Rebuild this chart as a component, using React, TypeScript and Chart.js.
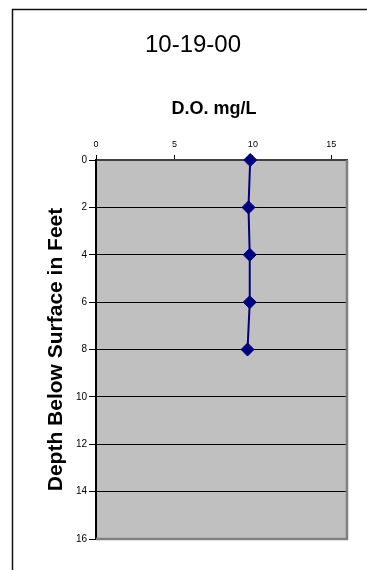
import React, { useEffect, useRef } from "react";
import { Chart, registerables } from "chart.js";

Chart.register(...registerables);

const chartTitle = "10-19-00";
const xAxisTitle = "D.O. mg/L";
const yAxisTitle = "Depth Below Surface in Feet";
const depthFeet = [0, 2, 4, 6, 8];
const doMgL = [9.83, 9.72, 9.8, 9.8, 9.66];
const xTickValues = [0, 5, 10, 15];
const yTickValues = [0, 2, 4, 6, 8, 10, 12, 14, 16];

const FONT = "Arial, 'Liberation Sans', sans-serif";

const framePlugin = {
  id: "excelFrame",
  beforeDraw(chart: any) {
    const { ctx, chartArea } = chart;
    ctx.save();
    ctx.fillStyle = "#ffffff";
    ctx.fillRect(0, 0, chart.width, chart.height);
    // outer chart border
    ctx.strokeStyle = "#111111";
    ctx.lineWidth = 1.5;
    ctx.strokeRect(12.5, 9.5, 400, 620);
    // plot area
    ctx.fillStyle = "#C0C0C0";
    ctx.fillRect(chartArea.left, chartArea.top, chartArea.right - chartArea.left, chartArea.bottom - chartArea.top);
    // texts
    ctx.fillStyle = "#000000";
    ctx.textAlign = "center";
    ctx.textBaseline = "alphabetic";
    ctx.font = `24px ${FONT}`;
    ctx.fillText(chartTitle, 193, 51.5);
    ctx.font = `bold 18px ${FONT}`;
    ctx.fillText(xAxisTitle, 214, 113.5);
    ctx.translate(62, (chartArea.top + chartArea.bottom) / 2);
    ctx.rotate(-Math.PI / 2);
    ctx.font = `bold 21px ${FONT}`;
    ctx.fillText(yAxisTitle, 0, 0);
    ctx.restore();
  },
  beforeDatasetsDraw(chart: any) {
    const { ctx, chartArea } = chart;
    ctx.save();
    ctx.strokeStyle = "#808080";
    ctx.lineWidth = 2.5;
    ctx.beginPath();
    ctx.moveTo(chartArea.right, chartArea.top);
    ctx.lineTo(chartArea.right, chartArea.bottom);
    ctx.lineTo(chartArea.left, chartArea.bottom);
    ctx.stroke();
    ctx.restore();
  },
};

export default function App() {
  const canvasRef = useRef<HTMLCanvasElement | null>(null);

  useEffect(() => {
    document.body.style.margin = "0";
    const canvas = canvasRef.current;
    if (!canvas) return;
    const chart = new Chart(canvas, {
      type: "scatter",
      data: {
        datasets: [
          {
            label: xAxisTitle,
            data: depthFeet.map((d, i) => ({ x: doMgL[i], y: d })),
            showLine: true,
            clip: false,
            borderColor: "#000080",
            backgroundColor: "#000080",
            borderWidth: 2,
            pointStyle: "rectRot",
            pointRadius: 6.5,
            pointBorderWidth: 1,
            pointBorderColor: "#000080",
            pointBackgroundColor: "#000080",
            tension: 0,
          },
        ],
      },
      options: {
        responsive: false,
        animation: false,
        devicePixelRatio: 1,
        layout: { padding: { left: 0, top: 0, right: 20, bottom: 31 } },
        plugins: {
          legend: { display: false },
          title: { display: false },
          tooltip: { enabled: false },
        },
        scales: {
          x: {
            type: "linear",
            position: "top",
            min: 0,
            max: 16,
            afterBuildTicks: (s: any) => {
              s.ticks = xTickValues.map((v) => ({ value: v }));
            },
            afterFit: (s: any) => {
              s.height = 160;
            },
            grid: {
              drawOnChartArea: false,
              tickLength: 5,
              color: "#000000",
              tickColor: "#000000",
            },
            border: { display: true, color: "#404040", width: 2 },
            ticks: {
              font: { family: FONT, size: 9 },
              color: "#000000",
              padding: 5,
              maxRotation: 0,
              autoSkip: false,
            },
          },
          y: {
            type: "linear",
            reverse: true,
            min: 0,
            max: 16,
            afterBuildTicks: (s: any) => {
              s.ticks = yTickValues.map((v) => ({ value: v }));
            },
            afterFit: (s: any) => {
              s.width = 96;
            },
            grid: {
              color: (c: any) =>
                c.tick && (c.tick.value === 0 || c.tick.value === 16) ? "rgba(0,0,0,0)" : "#000000",
              tickColor: "#000000",
              tickLength: 7,
              lineWidth: 1,
            },
            border: { display: true, color: "#000000", width: 2 },
            ticks: {
              font: { family: FONT, size: 10 },
              color: "#000000",
              padding: 2,
              autoSkip: false,
            },
          },
        },
      },
      plugins: [framePlugin],
    });
    return () => chart.destroy();
  }, []);

  return (
    <div style={{ width: 367, height: 570 }}>
      <canvas ref={canvasRef} width={367} height={570} style={{ display: "block" }} />
    </div>
  );
}
